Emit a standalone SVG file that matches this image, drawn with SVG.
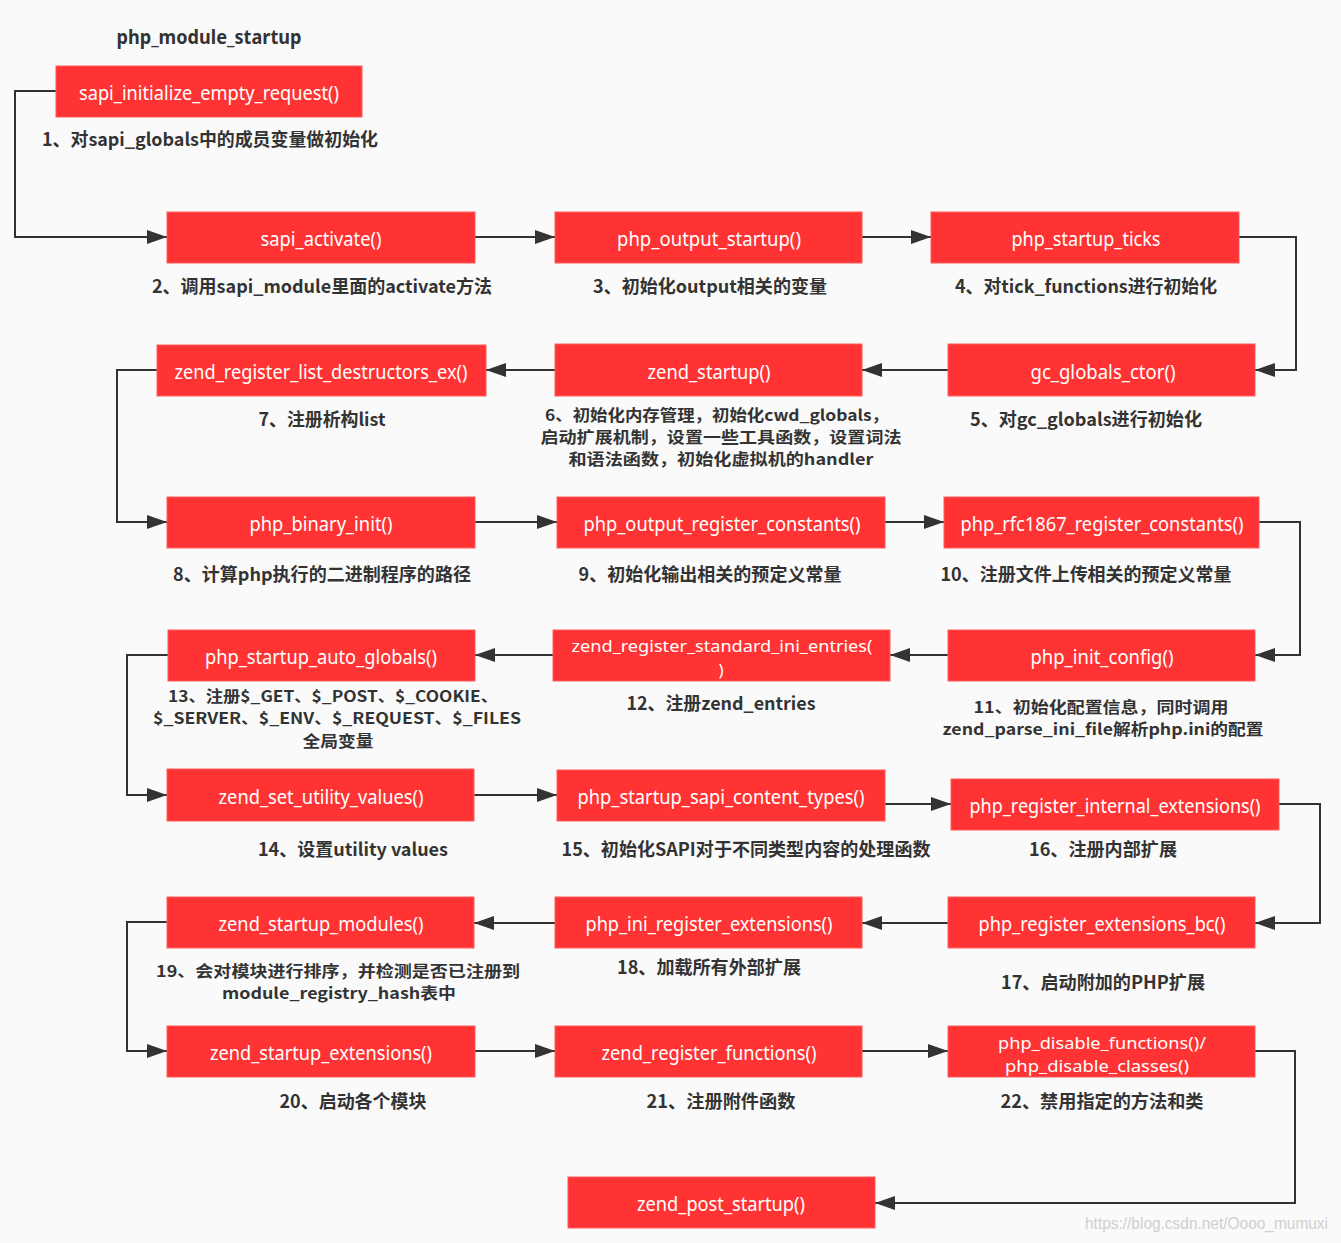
<svg xmlns="http://www.w3.org/2000/svg" width="1341" height="1243" viewBox="0 0 1341 1243">
<defs>
<style>
.bg{fill:#fafafa}
.box{fill:#ff3333;stroke:#ff5c5c;stroke-width:1}
.nt{font-family:"Noto Sans","Noto Sans CJK SC",sans-serif;font-size:19px;fill:#ffffff;text-anchor:middle}
.n2{font-size:17px}
.lb{font-family:"Noto Sans CJK SC","Noto Sans",sans-serif;font-size:18px;font-weight:700;fill:#333333;text-anchor:middle}
.ml{font-size:15.5px}
.ttl{font-family:"Noto Sans","Noto Sans CJK SC",sans-serif;font-size:19px;font-weight:700;fill:#333333;text-anchor:middle}
.wm{font-family:"Liberation Sans Narrow","Liberation Sans",sans-serif;font-size:16px;fill:#cfcfcf;text-anchor:end}
.cn{fill:none;stroke:#333333;stroke-width:2;marker-end:url(#ah)}
</style>
<marker id="ah" markerUnits="userSpaceOnUse" markerWidth="22" markerHeight="16" refX="20" refY="7" orient="auto">
<path d="M0,0 L20,7 L0,14 z" fill="#333333"/>
</marker>
</defs>
<rect class="bg" x="0" y="0" width="1341" height="1243"/>
<text class="ttl" x="209" y="44" textLength="185" lengthAdjust="spacingAndGlyphs">php_module_startup</text>

<g id="connectors">
<polyline class="cn" points="56,91 15,91 15,237 167,237"/>
<polyline class="cn" points="475,237 555,237"/>
<polyline class="cn" points="862,237 931,237"/>
<polyline class="cn" points="1239,237 1296,237 1296,370 1255,370"/>
<polyline class="cn" points="948,370 862,370"/>
<polyline class="cn" points="555,370 486,370"/>
<polyline class="cn" points="157,370 117,370 117,522 167,522"/>
<polyline class="cn" points="475,522 557,522"/>
<polyline class="cn" points="885,522 944,522"/>
<polyline class="cn" points="1259,522 1300,522 1300,655 1255,655"/>
<polyline class="cn" points="948,655 890,655"/>
<polyline class="cn" points="553,655 475,655"/>
<polyline class="cn" points="168,655 127,655 127,795 167,795"/>
<polyline class="cn" points="474,795 557,795"/>
<polyline class="cn" points="885,804 951,804"/>
<polyline class="cn" points="1279,804 1320,804 1320,923 1255,923"/>
<polyline class="cn" points="948,923 862,923"/>
<polyline class="cn" points="555,923 474,923"/>
<polyline class="cn" points="168,922 127,922 127,1051 167,1051"/>
<polyline class="cn" points="475,1051 555,1051"/>
<polyline class="cn" points="862,1051 948,1051"/>
<polyline class="cn" points="1255,1051 1295,1051 1295,1203 875,1203"/>
</g>

<g id="n1"><rect class="box" x="56" y="66" width="306" height="51"/><text class="nt" x="209" y="100" textLength="260" lengthAdjust="spacingAndGlyphs">sapi_initialize_empty_request()</text><text class="lb" x="210" y="146" textLength="336" lengthAdjust="spacingAndGlyphs">1、对sapi_globals中的成员变量做初始化</text></g>
<g id="n2"><rect class="box" x="167" y="212" width="308" height="51"/><text class="nt" x="321" y="246" textLength="121" lengthAdjust="spacingAndGlyphs">sapi_activate()</text><text class="lb" x="322" y="293" textLength="340" lengthAdjust="spacingAndGlyphs">2、调用sapi_module里面的activate方法</text></g>
<g id="n3"><rect class="box" x="555" y="212" width="307" height="51"/><text class="nt" x="709" y="246" textLength="184" lengthAdjust="spacingAndGlyphs">php_output_startup()</text><text class="lb" x="710" y="293" textLength="234" lengthAdjust="spacingAndGlyphs">3、初始化output相关的变量</text></g>
<g id="n4"><rect class="box" x="931" y="212" width="308" height="51"/><text class="nt" x="1086" y="246" textLength="149" lengthAdjust="spacingAndGlyphs">php_startup_ticks</text><text class="lb" x="1086" y="293" textLength="262" lengthAdjust="spacingAndGlyphs">4、对tick_functions进行初始化</text></g>
<g id="n5"><rect class="box" x="948" y="344" width="307" height="52"/><text class="nt" x="1103" y="379" textLength="145" lengthAdjust="spacingAndGlyphs">gc_globals_ctor()</text><text class="lb" x="1086" y="426" textLength="232" lengthAdjust="spacingAndGlyphs">5、对gc_globals进行初始化</text></g>
<g id="n6"><rect class="box" x="555" y="344" width="307" height="52"/><text class="nt" x="709" y="379" textLength="123" lengthAdjust="spacingAndGlyphs">zend_startup()</text>
<text class="lb ml" x="717" y="421" textLength="344" lengthAdjust="spacingAndGlyphs">6、初始化内存管理，初始化cwd_globals，</text>
<text class="lb ml" x="721" y="443" textLength="361" lengthAdjust="spacingAndGlyphs">启动扩展机制，设置一些工具函数，设置词法</text>
<text class="lb ml" x="721" y="465" textLength="305" lengthAdjust="spacingAndGlyphs">和语法函数，初始化虚拟机的handler</text></g>
<g id="n7"><rect class="box" x="157" y="345" width="329" height="51"/><text class="nt" x="321" y="379" textLength="293" lengthAdjust="spacingAndGlyphs">zend_register_list_destructors_ex()</text><text class="lb" x="322" y="426" textLength="127" lengthAdjust="spacingAndGlyphs">7、注册析构list</text></g>
<g id="n8"><rect class="box" x="167" y="497" width="308" height="51"/><text class="nt" x="321" y="531" textLength="143" lengthAdjust="spacingAndGlyphs">php_binary_init()</text><text class="lb" x="322" y="581" textLength="298" lengthAdjust="spacingAndGlyphs">8、计算php执行的二进制程序的路径</text></g>
<g id="n9"><rect class="box" x="557" y="497" width="328" height="51"/><text class="nt" x="722" y="531" textLength="277" lengthAdjust="spacingAndGlyphs">php_output_register_constants()</text><text class="lb" x="710" y="581" textLength="263" lengthAdjust="spacingAndGlyphs">9、初始化输出相关的预定义常量</text></g>
<g id="n10"><rect class="box" x="944" y="497" width="315" height="51"/><text class="nt" x="1102" y="531" textLength="283" lengthAdjust="spacingAndGlyphs">php_rfc1867_register_constants()</text><text class="lb" x="1086" y="581" textLength="291" lengthAdjust="spacingAndGlyphs">10、注册文件上传相关的预定义常量</text></g>
<g id="n11"><rect class="box" x="948" y="630" width="307" height="51"/><text class="nt" x="1102" y="664" textLength="143" lengthAdjust="spacingAndGlyphs">php_init_config()</text>
<text class="lb ml" x="1101" y="713" textLength="255" lengthAdjust="spacingAndGlyphs">11、初始化配置信息，同时调用</text>
<text class="lb ml" x="1103" y="735" textLength="321" lengthAdjust="spacingAndGlyphs">zend_parse_ini_file解析php.ini的配置</text></g>
<g id="n12"><rect class="box" x="553" y="630" width="337" height="51"/><text class="nt n2" x="722" y="652" textLength="301" lengthAdjust="spacingAndGlyphs">zend_register_standard_ini_entries(</text><text class="nt n2" x="721" y="676">)</text><text class="lb" x="721" y="710" textLength="189" lengthAdjust="spacingAndGlyphs">12、注册zend_entries</text></g>
<g id="n13"><rect class="box" x="168" y="630" width="307" height="51"/><text class="nt" x="321" y="664" textLength="232" lengthAdjust="spacingAndGlyphs">php_startup_auto_globals()</text>
<text class="lb ml" x="333" y="702" textLength="330" lengthAdjust="spacingAndGlyphs">13、注册$_GET、$_POST、$_COOKIE、</text>
<text class="lb ml" x="337" y="724" textLength="368" lengthAdjust="spacingAndGlyphs">$_SERVER、$_ENV、$_REQUEST、$_FILES</text>
<text class="lb ml" x="338" y="747" textLength="71" lengthAdjust="spacingAndGlyphs">全局变量</text></g>
<g id="n14"><rect class="box" x="167" y="769" width="307" height="52"/><text class="nt" x="321" y="804" textLength="205" lengthAdjust="spacingAndGlyphs">zend_set_utility_values()</text><text class="lb" x="353" y="856" textLength="190" lengthAdjust="spacingAndGlyphs">14、设置utility values</text></g>
<g id="n15"><rect class="box" x="557" y="770" width="328" height="51"/><text class="nt" x="721" y="804" textLength="287" lengthAdjust="spacingAndGlyphs">php_startup_sapi_content_types()</text><text class="lb" x="746" y="856" textLength="369" lengthAdjust="spacingAndGlyphs">15、初始化SAPI对于不同类型内容的处理函数</text></g>
<g id="n16"><rect class="box" x="951" y="779" width="328" height="51"/><text class="nt" x="1115" y="813" textLength="291" lengthAdjust="spacingAndGlyphs">php_register_internal_extensions()</text><text class="lb" x="1103" y="856" textLength="148" lengthAdjust="spacingAndGlyphs">16、注册内部扩展</text></g>
<g id="n17"><rect class="box" x="948" y="897" width="307" height="51"/><text class="nt" x="1102" y="931" textLength="247" lengthAdjust="spacingAndGlyphs">php_register_extensions_bc()</text><text class="lb" x="1103" y="989" textLength="204" lengthAdjust="spacingAndGlyphs">17、启动附加的PHP扩展</text></g>
<g id="n18"><rect class="box" x="555" y="897" width="307" height="51"/><text class="nt" x="709" y="931" textLength="247" lengthAdjust="spacingAndGlyphs">php_ini_register_extensions()</text><text class="lb" x="709" y="974" textLength="184" lengthAdjust="spacingAndGlyphs">18、加载所有外部扩展</text></g>
<g id="n19"><rect class="box" x="167" y="897" width="307" height="51"/><text class="nt" x="321" y="931" textLength="205" lengthAdjust="spacingAndGlyphs">zend_startup_modules()</text>
<text class="lb ml" x="338" y="977" textLength="364" lengthAdjust="spacingAndGlyphs">19、会对模块进行排序，并检测是否已注册到</text>
<text class="lb ml" x="339" y="999" textLength="234" lengthAdjust="spacingAndGlyphs">module_registry_hash表中</text></g>
<g id="n20"><rect class="box" x="167" y="1026" width="308" height="51"/><text class="nt" x="321" y="1060" textLength="222" lengthAdjust="spacingAndGlyphs">zend_startup_extensions()</text><text class="lb" x="353" y="1108" textLength="147" lengthAdjust="spacingAndGlyphs">20、启动各个模块</text></g>
<g id="n21"><rect class="box" x="555" y="1026" width="307" height="51"/><text class="nt" x="709" y="1060" textLength="215" lengthAdjust="spacingAndGlyphs">zend_register_functions()</text><text class="lb" x="721" y="1108" textLength="149" lengthAdjust="spacingAndGlyphs">21、注册附件函数</text></g>
<g id="n22"><rect class="box" x="948" y="1026" width="307" height="51"/><text class="nt n2" x="1102" y="1049" textLength="208" lengthAdjust="spacingAndGlyphs">php_disable_functions()/</text><text class="nt n2" x="1097" y="1072" textLength="184" lengthAdjust="spacingAndGlyphs">php_disable_classes()</text><text class="lb" x="1102" y="1108" textLength="203" lengthAdjust="spacingAndGlyphs">22、禁用指定的方法和类</text></g>
<g id="n23"><rect class="box" x="568" y="1177" width="307" height="51"/><text class="nt" x="721" y="1211" textLength="168" lengthAdjust="spacingAndGlyphs">zend_post_startup()</text></g>
<text class="wm" x="1328" y="1229" textLength="243" lengthAdjust="spacingAndGlyphs">https://blog.csdn.net/Oooo_mumuxi</text>
</svg>
